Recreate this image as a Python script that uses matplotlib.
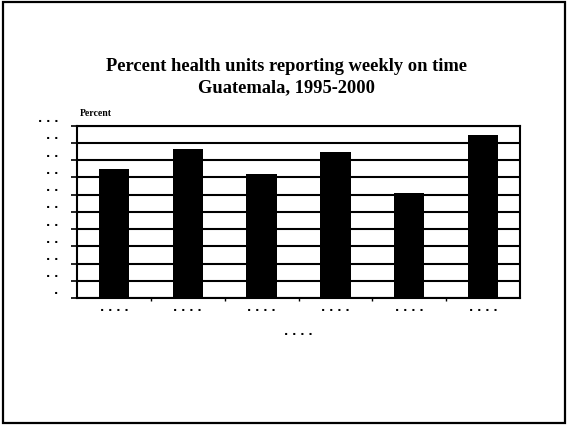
import matplotlib
matplotlib.use("Agg")
import matplotlib.pyplot as plt
from matplotlib.patches import Rectangle
from matplotlib.transforms import ScaledTranslation

# Data (tick labels are illegible dots in the reference)
categories = [". . . .", ". . . .", ". . . .", ". . . .", ". . . .", ". . . ."]
values = [75, 86.5, 72, 85, 61, 94.5]
y_ticks = [0, 10, 20, 30, 40, 50, 60, 70, 80, 90, 100]
y_tick_labels = [".", ". .", ". .", ". .", ". .", ". .", ". .", ". .", ". .", ". .", ". . ."]
title = "Percent health units reporting weekly on time\nGuatemala, 1995-2000"
y_title = "Percent"
x_title = ". . . ."

W, H = 568, 427
fig = plt.figure(figsize=(W / 100, H / 100), dpi=100)
fig.patch.set_facecolor("white")

# Outer frame
fig.patches.append(Rectangle((3 / W, 3 / H), (W - 6) / W, (H - 6) / H,
                             transform=fig.transFigure, fill=False,
                             edgecolor="black", linewidth=1.6))

ax = fig.add_axes([77 / W, 1 - 299 / H, (520 - 77) / W, (299 - 126.7) / H])
x = list(range(len(categories)))
ax.bar(x, values, width=0.41, color="black", zorder=3)

ax.set_xlim(-0.5, len(categories) - 0.5)
ax.set_ylim(0, 100)
ax.set_yticks(y_ticks)
ax.set_yticklabels(y_tick_labels, fontsize=8, fontweight="bold", family="DejaVu Sans")
ax.yaxis.grid(True, color="black", linewidth=1.5, zorder=1)
ax.set_axisbelow(True)
ax.tick_params(axis="y", length=4.5, width=1.2, pad=9, colors="black")

ax.set_xticks(x)
ax.set_xticklabels(categories, fontsize=8, fontweight="bold", family="DejaVu Sans")
ax.set_xticks([i + 0.5 for i in x[:-1]], minor=True)
ax.tick_params(axis="x", which="major", length=0, pad=3)
ax.tick_params(axis="x", which="minor", length=2.5, width=1.0, direction="out")

for s in ax.spines.values():
    s.set_color("black")
    s.set_linewidth(1.5)

# shift y tick labels upward like the reference
off = ScaledTranslation(0, 8.5 / 100, fig.dpi_scale_trans)
for lab in ax.get_yticklabels():
    lab.set_transform(lab.get_transform() + off)

fig.text(286 / W, 1 - 77 / H, title, ha="center", va="center",
         fontsize=13.3, fontweight="bold", family="Liberation Serif",
         linespacing=1.36)
fig.text(80 / W, 1 - 113 / H, y_title, ha="left", va="center",
         fontsize=7, fontweight="bold", family="Liberation Serif")
fig.text(298 / W, 1 - 332 / H, x_title, ha="center", va="center",
         fontsize=8, fontweight="bold", family="DejaVu Sans")

fig.savefig("out.png", dpi=100, facecolor="white")
